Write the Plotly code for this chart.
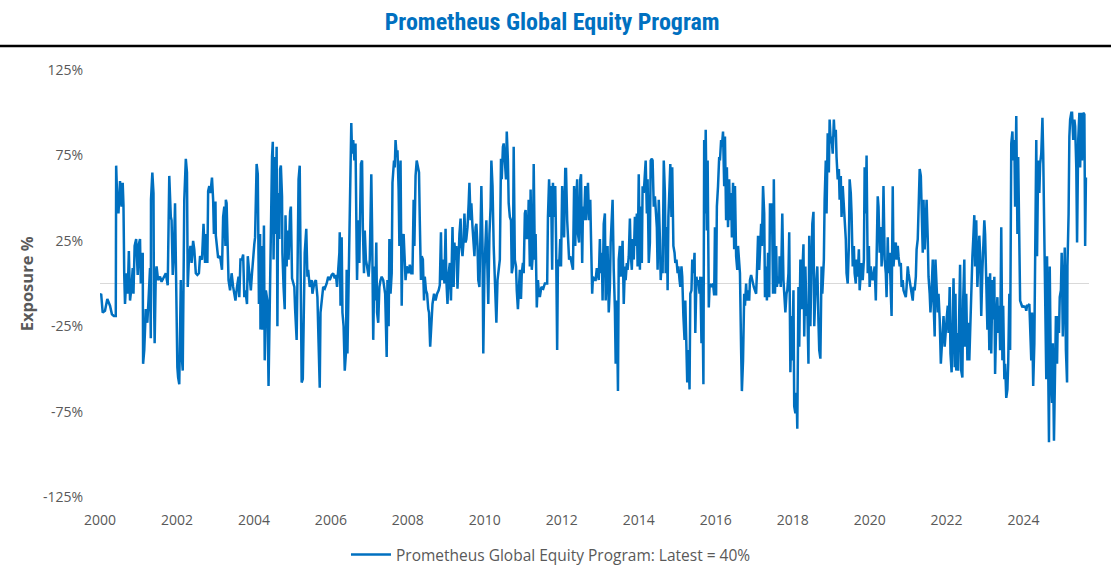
import plotly.graph_objects as go

# Decimal-year dates and exposure (%)
years = [
2000.00,2000.03,2000.07,2000.13,2000.19,2000.26,2000.31,2000.36,2000.41,2000.42,2000.45,2000.48,2000.52,2000.56,2000.59,2000.61,2000.63,2000.65,2000.69,2000.72,
2000.75,2000.78,2000.82,2000.85,2000.87,2000.90,2000.94,2000.98,2001.01,2001.04,2001.06,2001.11,2001.12,2001.15,2001.19,2001.23,2001.26,2001.30,2001.32,2001.325,
2001.36,2001.39,2001.40,2001.42,2001.45,2001.47,2001.51,2001.56,2001.60,2001.66,2001.71,2001.76,2001.78,2001.80,2001.84,2001.86,2001.89,2001.92,2001.95,2001.97,
2001.99,2002.01,2002.03,2002.06,2002.10,2002.12,2002.15,2002.19,2002.23,2002.26,2002.28,2002.31,2002.35,2002.38,2002.42,2002.45,2002.49,2002.53,2002.57,2002.60,
2002.65,2002.69,2002.73,2002.76,2002.79,2002.81,2002.84,2002.87,2002.91,2002.94,2002.96,2003.00,2003.01,2003.03,2003.07,2003.12,2003.17,2003.20,2003.23,2003.26,
2003.27,2003.29,2003.32,2003.34,2003.38,2003.42,2003.46,2003.52,2003.56,2003.60,2003.62,2003.65,2003.69,2003.72,2003.75,2003.78,2003.82,2003.84,2003.88,2003.92,
2003.95,2003.97,2004.01,2004.03,2004.07,2004.10,2004.13,2004.16,2004.17,2004.20,2004.23,2004.26,2004.28,2004.31,2004.35,2004.38,2004.41,
2004.42,2004.44,2004.47,2004.49,2004.51,2004.54,2004.56,2004.59,2004.61,2004.63,2004.66,2004.68,2004.70,2004.73,2004.74,2004.77,2004.80,2004.82,2004.85,2004.87,
2004.90,2004.94,2004.96,2004.99,2005.02,2005.05,2005.07,2005.11,2005.13,2005.16,2005.19,2005.21,2005.24,2005.27,2005.30,2005.32,2005.36,2005.39,2005.41,2005.45,
2005.50,2005.52,2005.55,2005.58,2005.61,2005.65,2005.68,2005.71,2005.73,2005.77,2005.80,2005.84,2005.89,2005.93,2005.97,2006.02,2006.06,2006.10,2006.13,2006.16,
2006.18,2006.22,2006.23,2006.25,2006.28,2006.30,2006.33,2006.36,2006.39,2006.41,2006.43,2006.46,2006.49,2006.50,2006.53,2006.55,2006.58,2006.61,2006.64,2006.67,
2006.68,2006.71,2006.74,2006.78,2006.81,2006.83,2006.86,2006.88,2006.91,2006.94,2006.98,2007.01,2007.05,2007.07,2007.10,2007.13,2007.15,2007.18,2007.20,2007.23,
2007.26,2007.29,2007.32,2007.36,2007.39,2007.41,2007.45,2007.47,2007.50,2007.52,2007.55,2007.58,2007.60,2007.64,2007.66,2007.68,2007.71,2007.73,2007.76,2007.78,
2007.79,2007.81,2007.84,2007.86,2007.89,2007.91,2007.94,2007.97,2008.02,2008.05,2008.09,2008.12,2008.15,2008.17,2008.20,2008.23,2008.26,2008.29,2008.31,2008.34,
2008.36,2008.39,2008.42,2008.44,2008.47,2008.50,2008.53,2008.55,2008.58,2008.61,2008.64,2008.68,2008.72,2008.76,2008.80,2008.83,
2008.86,2008.88,2008.92,2008.95,2008.98,2009.00,2009.03,2009.06,2009.09,2009.12,2009.14,2009.16,2009.19,2009.21,2009.24,2009.26,2009.29,2009.32,2009.34,2009.37,
2009.39,2009.42,2009.45,2009.47,2009.50,2009.52,2009.55,2009.58,2009.60,2009.63,2009.65,2009.68,2009.71,2009.73,2009.76,2009.78,2009.81,2009.83,2009.86,2009.89,
2009.91,2009.94,2009.96,2009.99,2010.02,2010.04,2010.07,2010.09,2010.12,2010.15,2010.17,2010.20,2010.23,2010.25,2010.28,2010.30,2010.33,2010.35,2010.39,2010.42,
2010.44,2010.47,2010.49,2010.52,2010.55,2010.57,2010.60,2010.62,2010.65,2010.68,2010.70,2010.73,2010.75,2010.78,2010.81,2010.83,2010.86,2010.88,2010.91,2010.94,
2010.96,2010.99,2011.01,2011.04,2011.06,2011.09,2011.12,2011.14,2011.17,2011.19,2011.22,2011.25,2011.27,2011.30,2011.32,2011.35,2011.38,2011.40,2011.43,2011.47,
2011.52,2011.56,2011.62,2011.64,2011.67,2011.70,2011.72,2011.75,2011.77,2011.80,2011.83,2011.85,2011.88,2011.90,2011.93,2011.96,2011.98,2012.01,2012.03,2012.06,
2012.09,2012.11,2012.14,2012.17,2012.19,2012.22,2012.24,2012.27,2012.29,2012.32,2012.35,2012.37,2012.40,2012.42,2012.45,2012.48,2012.50,2012.53,2012.55,2012.58,
2012.61,2012.63,2012.66,2012.68,2012.71,2012.74,2012.76,2012.79,2012.81,2012.85,2012.88,2012.91,2012.94,2012.96,2012.99,2013.01,2013.04,2013.06,2013.09,2013.12,
2013.14,2013.17,2013.19,2013.22,2013.25,
2013.27,2013.30,2013.32,2013.35,2013.38,2013.40,2013.43,2013.46,2013.48,2013.51,2013.53,2013.56,2013.58,2013.61,2013.64,2013.66,2013.69,2013.71,2013.74,2013.77,
2013.79,2013.82,2013.84,2013.87,2013.90,2013.92,2013.95,2013.97,2014.00,2014.03,2014.05,2014.08,2014.10,2014.13,2014.16,2014.18,2014.21,2014.23,2014.26,2014.29,
2014.31,2014.34,2014.36,2014.39,2014.42,2014.44,2014.47,2014.49,2014.52,2014.55,2014.57,2014.60,2014.62,2014.65,2014.68,2014.70,2014.73,2014.75,2014.77,2014.80,
2014.82,2014.85,2014.87,2014.90,2014.93,2014.95,2014.98,2015.01,2015.03,2015.06,2015.08,2015.11,2015.13,2015.16,2015.19,2015.21,2015.24,2015.26,2015.29,2015.32,
2015.34,2015.37,2015.39,2015.42,2015.45,2015.47,2015.50,2015.52,2015.55,2015.58,2015.60,2015.63,2015.65,2015.68,2015.70,2015.72,2015.74,2015.77,2015.79,2015.82,
2015.84,2015.87,2015.90,2015.93,2015.96,2015.98,2016.01,2016.03,2016.06,2016.09,2016.11,2016.14,2016.16,2016.19,2016.22,2016.24,2016.27,2016.29,2016.32,2016.35,
2016.37,2016.40,2016.42,2016.45,2016.48,2016.50,2016.53,2016.56,2016.58,2016.61,2016.63,2016.66,2016.68,2016.71,2016.74,2016.76,2016.79,2016.81,2016.84,2016.87,
2016.89,2016.92,2016.94,2016.97,2016.99,2017.02,2017.05,2017.07,2017.10,2017.13,2017.15,2017.18,2017.20,2017.23,2017.26,2017.28,2017.31,2017.33,2017.36,2017.39,
2017.41,2017.44,2017.46,2017.49,2017.51,2017.54,2017.57,2017.59,2017.62,2017.65,
2017.66,2017.69,2017.71,2017.73,2017.76,2017.78,2017.81,2017.84,2017.86,2017.89,2017.91,2017.94,2017.97,2017.99,2018.02,2018.04,2018.07,2018.10,2018.12,2018.15,
2018.17,2018.20,2018.23,2018.25,2018.28,2018.30,2018.33,2018.36,2018.38,2018.41,2018.43,2018.46,2018.49,2018.51,2018.54,2018.56,2018.59,2018.62,2018.64,2018.67,
2018.69,2018.72,2018.75,2018.77,2018.80,2018.81,2018.83,2018.86,2018.88,2018.91,2018.94,2018.96,2018.99,2019.01,2019.04,2019.07,2019.09,2019.12,2019.14,2019.17,
2019.20,2019.22,2019.25,2019.27,2019.30,2019.33,2019.35,2019.38,2019.40,2019.43,2019.46,2019.48,2019.51,2019.53,2019.56,2019.59,2019.61,2019.64,2019.66,2019.69,
2019.72,2019.74,2019.77,2019.79,2019.82,2019.85,2019.87,2019.90,2019.92,2019.95,2019.98,2020.00,2020.03,2020.05,2020.08,2020.10,2020.13,2020.16,2020.18,2020.21,
2020.23,2020.26,2020.29,2020.31,2020.34,2020.36,2020.39,2020.42,2020.44,2020.47,2020.49,2020.52,2020.55,2020.57,2020.60,2020.62,2020.65,2020.68,2020.70,2020.73,
2020.75,2020.78,2020.81,2020.83,2020.86,2020.88,2020.91,2020.94,2020.96,2020.99,2021.01,2021.04,2021.07,2021.09,2021.12,2021.14,2021.17,2021.20,2021.22,2021.25,
2021.27,2021.30,2021.33,2021.35,2021.38,2021.40,2021.43,2021.46,2021.48,2021.51,2021.53,2021.56,2021.58,2021.61,2021.64,2021.66,2021.69,2021.71,2021.74,2021.77,
2021.79,2021.82,2021.85,2021.87,2021.90,2021.92,2021.95,2021.97,2022.00,2022.03,2022.05,2022.08,
2022.10,2022.13,2022.16,2022.18,2022.21,2022.23,2022.25,2022.28,2022.30,2022.33,2022.35,2022.38,2022.41,2022.43,2022.46,2022.48,2022.51,2022.54,2022.56,2022.59,
2022.61,2022.64,2022.67,2022.69,2022.72,2022.74,2022.77,2022.80,2022.82,2022.85,2022.87,2022.90,2022.93,2022.95,2022.98,2023.00,2023.03,2023.06,2023.08,2023.11,
2023.13,2023.16,2023.19,2023.21,2023.24,2023.26,2023.29,2023.32,2023.34,2023.37,2023.39,2023.42,2023.45,2023.47,2023.50,2023.52,2023.55,2023.58,2023.60,2023.63,
2023.65,2023.68,2023.71,2023.73,2023.76,2023.78,2023.81,2023.84,2023.86,2023.89,2023.91,2023.94,2023.97,2023.99,2024.02,2024.04,2024.07,2024.09,2024.12,2024.15,
2024.17,2024.20,2024.22,2024.25,2024.28,2024.30,2024.33,2024.35,2024.38,2024.41,2024.43,2024.46,2024.49,2024.51,2024.54,2024.56,2024.59,2024.61,2024.63,2024.66,
2024.68,2024.71,2024.74,2024.76,2024.79,2024.81,2024.84,2024.87,2024.89,2024.92,2024.94,2024.97,2024.99,2025.02,2025.05,2025.07,2025.10,2025.13,2025.14,2025.17,
2025.19,2025.21,2025.24,2025.26,2025.29,2025.32,2025.34,2025.37,2025.39,2025.42,2025.45,2025.47,2025.50,2025.52,2025.55,2025.58,2025.60,2025.62,
]

exposure = [
-7,-6,-17,-16,-9,-13,-18,-19,-19,69,47,41,60,45,59,46,5,-12,6,-6,
19,-10,-2,9,-6,22,26,5,23,26,0,18,-47,-39,-15,-23,-10,9,-32,49,
65,53,-4,-35,6,10,2,4,1,4,6,-1,31,63,39,37,5,18,47,4,
-17,-49,-55,-59,2,-41,-51,49,73,65,-2,14,22,12,25,20,6,5,6,16,
14,35,12,29,12,54,57,53,62,49,29,48,28,22,15,16,8,39,45,22,
49,47,16,2,-4,6,-2,-10,-2,4,-8,14,14,17,-8,-4,-12,16,6,-4,
6,14,23,27,70,64,-12,29,-27,22,-27,34,-45,-4,-10,-60,-3,
-2,35,74,83,14,74,29,80,-25,53,26,67,69,51,18,-2,-15,40,10,31,
14,42,45,3,0,-2,-15,-33,2,61,69,22,-58,-56,4,18,32,4,8,-2,
2,-6,-2,1,2,-8,-35,-61,-17,-6,-2,-3,0,4,2,5,6,3,5,-2,
6,18,30,-13,27,-17,-25,-51,-41,8,-41,4,35,76,94,76,84,72,82,18,
2,37,12,70,72,33,6,31,14,10,4,14,64,33,-33,10,-10,24,-17,-23,
-2,2,4,2,-4,-6,-43,2,-25,26,-6,6,59,72,68,84,74,78,55,22,
57,72,-13,24,29,18,2,10,6,11,6,6,49,22,63,72,68,65,37,2,
16,14,-10,4,-4,-6,-15,-17,-37,-21,-12,-6,-10,-6,-4,-1,
30,2,14,0,32,2,-12,6,12,-10,22,33,-2,24,14,22,-3,26,29,38,
22,16,26,41,24,26,33,47,59,37,47,33,18,16,33,35,22,2,-2,49,
57,22,-41,8,33,37,6,-12,29,45,72,57,22,6,-4,-23,2,6,14,73,
61,80,82,72,61,89,72,47,39,37,6,10,80,14,10,-4,-15,-6,8,-9,
6,12,6,41,43,26,29,49,10,55,8,18,70,14,29,-14,2,-4,-8,-2,
-3,0,0,39,61,39,57,8,59,39,57,27,-39,14,10,26,10,57,41,27,
67,67,37,26,14,16,14,10,8,57,22,47,61,29,24,61,64,12,45,37,
57,37,57,59,37,49,26,-6,4,2,2,9,6,2,26,6,18,-10,35,41,
-10,6,22,-17,-2,
24,45,49,8,-15,-47,-10,-63,14,22,4,14,25,-12,10,2,12,8,16,38,
18,8,26,14,39,22,41,10,64,8,45,12,57,53,65,72,41,61,12,24,
72,73,72,45,51,43,33,8,49,26,2,14,6,72,53,6,33,-4,39,57,
70,39,68,22,18,12,14,6,10,2,-2,10,4,-19,-33,-10,-39,-58,-39,-62,
-6,-4,14,6,18,-29,4,0,2,-6,4,-35,4,-59,84,41,90,31,72,-14,
-2,-1,-2,0,-7,33,-7,45,57,74,72,84,80,89,57,86,37,68,33,61,
37,53,27,59,20,57,16,8,22,10,6,-39,-63,-45,-6,-13,0,-10,-4,-10,
2,5,2,0,-2,-4,-6,6,28,8,18,35,22,57,41,-8,10,-10,18,-8,
47,33,47,-6,61,-6,22,-2,4,0,
16,-2,16,41,2,-6,-17,-6,-4,6,30,-52,-19,-45,-4,-72,-76,-64,-85,-2,
-37,14,-15,6,23,-31,10,-19,-12,-47,28,-25,18,35,42,-25,-6,6,10,-23,
-39,-44,10,-6,10,14,49,72,41,88,65,96,82,86,76,96,86,90,74,61,
67,49,63,39,57,45,33,26,6,0,22,61,53,41,10,22,6,0,14,4,
20,-4,6,12,2,14,68,41,75,6,22,-2,10,4,2,6,10,-10,14,51,
45,18,33,10,26,57,14,6,-8,27,6,18,-6,-19,57,10,20,24,14,22,
16,10,12,-2,2,-4,-6,-8,-2,10,6,2,-2,-4,-10,-2,-4,4,20,26,
45,67,63,49,18,49,20,37,49,26,4,-6,-17,-4,14,-10,-31,14,-6,-17,
-6,-21,-47,-39,-33,-19,-37,-27,-21,-13,-29,-2,
-41,-52,2,3,-49,-6,-51,-29,-51,-21,11,-51,-55,-10,14,-37,-6,-45,-23,-45,
-25,-2,16,25,40,10,37,-2,16,28,18,-19,8,22,37,29,6,-27,4,-39,
6,-41,2,-21,4,-53,-21,-8,-29,-13,-39,33,-45,-13,-56,-47,-67,-62,-47,-6,
-39,82,89,72,84,45,98,29,74,8,-10,-12,-14,-13,-14,-13,-16,-13,-13,-12,
-25,-45,-17,-60,-35,2,84,16,72,53,70,76,97,76,33,12,-56,16,-43,-93,
10,-55,-70,-35,-92,-49,-19,-47,-19,-29,-8,-4,18,-31,10,21,-39,-58,10,41,
86,96,100,100,84,96,92,68,24,84,100,68,100,72,100,99,22,62,
]

y_ticks = [-125, -75, -25, 25, 75, 125]
x_ticks = list(range(2000, 2025, 2))

title_text = "Prometheus Global Equity Program"
legend_text = "Prometheus Global Equity Program: Latest = 40%"

fig = go.Figure()
fig.add_trace(go.Scatter(
    x=years, y=exposure, mode="lines",
    line=dict(color="#0070C0", width=2.5),
    name=legend_text,
))

fig.update_layout(
    width=1111, height=576,
    paper_bgcolor="white", plot_bgcolor="white",
    margin=dict(l=100, r=22, t=70, b=79, autoexpand=False),
    font=dict(family="Open Sans, sans-serif", color="#595959", size=13),
    showlegend=True,
    legend=dict(orientation="h", x=0.456, xanchor="center", y=-0.1358, yanchor="middle",
                font=dict(size=15.5, color="#595959", family="Open Sans, sans-serif"),
                itemwidth=40),
    title=dict(text=title_text, x=0.497, xanchor="center", y=0.962, yanchor="middle",
               font=dict(family="Roboto Condensed, Roboto, sans-serif",
                         size=24, color="#0070C0", weight="bold")),
)

fig.update_xaxes(
    range=[2000, 2025.7], tickmode="array", tickvals=x_ticks,
    ticktext=[str(t) for t in x_ticks],
    showgrid=False, zeroline=False, showline=False, ticks="",
    ticklabelstandoff=13,
    tickfont=dict(size=14, color="#595959", family="Open Sans, sans-serif"),
)
fig.update_yaxes(
    range=[-125, 125], tickmode="array", tickvals=y_ticks,
    ticktext=[f"{t}%" for t in y_ticks],
    showgrid=False, zeroline=True, zerolinecolor="#D9D9D9", zerolinewidth=1,
    showline=False, ticks="", ticklabelstandoff=16,
    tickfont=dict(size=14, color="#595959", family="Open Sans, sans-serif"),
)

# y-axis title
fig.add_annotation(
    text="<b>Exposure %</b>", xref="paper", yref="paper",
    x=-0.074, y=0.5, xanchor="center", textangle=-90, showarrow=False,
    font=dict(size=16.5, color="#595959", family="Open Sans, sans-serif"),
)

# black rule under the title
fig.add_shape(type="line", xref="paper", yref="paper",
              x0=-0.102, x1=1.023, y0=1.0562, y1=1.0562,
              line=dict(color="black", width=2.5))

fig.write_html("out.html", post_script="document.body.style.margin='0';",
               config={"displayModeBar": False})
